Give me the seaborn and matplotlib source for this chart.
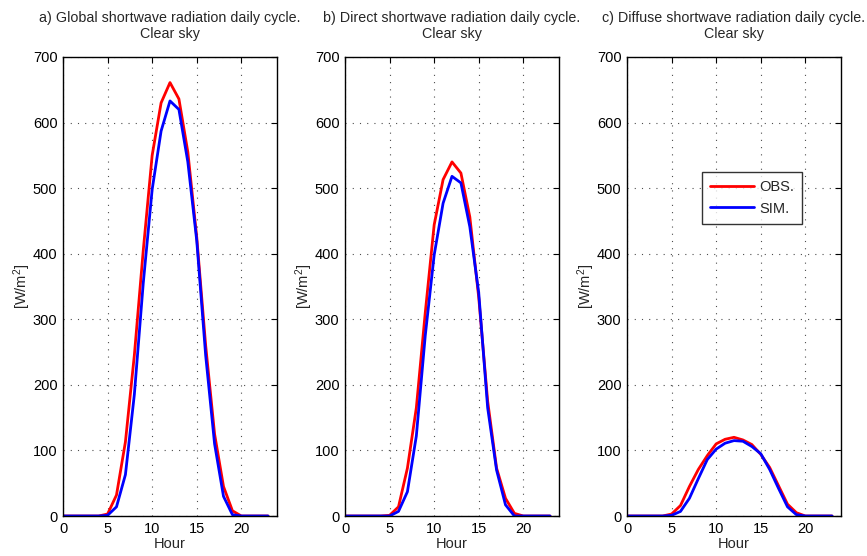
import matplotlib
matplotlib.use("Agg")
import matplotlib.pyplot as plt
import numpy as np
import pandas as pd
import seaborn as sns

# Hourly clear-sky shortwave radiation [W/m2], hours 0..23
hours = list(range(24))

global_obs = [0, 0, 0, 0, 0, 3, 32, 113, 245, 405, 550, 630, 661, 636, 555, 425,
              260, 125, 45, 8, 0, 0, 0, 0]
global_sim = [0, 0, 0, 0, 0, 1, 14, 63, 185, 355, 498, 587, 633, 620, 540, 420,
              245, 110, 30, 2, 0, 0, 0, 0]

direct_obs = [0, 0, 0, 0, 0, 1, 14, 73, 165, 310, 444, 513, 540, 523, 456, 333,
              175, 73, 27, 4, 0, 0, 0, 0]
direct_sim = [0, 0, 0, 0, 0, 0, 7, 37, 122, 275, 398, 477, 518, 508, 441, 340,
              165, 70, 17, 0, 0, 0, 0, 0]

diffuse_obs = [0, 0, 0, 0, 0, 3, 16, 45, 71, 92, 110, 117, 120, 116, 109, 94,
               74, 46, 18, 5, 0, 0, 0, 0]
diffuse_sim = [0, 0, 0, 0, 0, 1, 7, 27, 57, 86, 102, 111, 115, 114, 106, 95,
               71, 42, 14, 2, 0, 0, 0, 0]

series_names = ["OBS.", "SIM."]
titles = [
    "a) Global shortwave radiation daily cycle.\nClear sky",
    "b) Direct shortwave radiation daily cycle.\nClear sky",
    "c) Diffuse shortwave radiation daily cycle.\nClear sky",
]
panels = [
    (global_obs, global_sim),
    (direct_obs, direct_sim),
    (diffuse_obs, diffuse_sim),
]
x_ticks = [0, 5, 10, 15, 20]
y_ticks = [0, 100, 200, 300, 400, 500, 600, 700]

sns.set_theme(style="white")
plt.rcParams["font.family"] = ["Liberation Sans", "DejaVu Sans"]
plt.rcParams["mathtext.fontset"] = "custom"
plt.rcParams["mathtext.rm"] = "Liberation Sans"
plt.rcParams["mathtext.it"] = "Liberation Sans"

fig = plt.figure(figsize=(8.67, 5.56), dpi=100)
W, H = 867.0, 556.0
lefts = [63, 345, 627]
ax_w, ax_top, ax_bot = 214, 57, 516

palette = {"OBS.": "#ff0000", "SIM.": "#0000ff"}
fs = 10.5
title_fs = 10.3

for i, ((obs, sim), title) in enumerate(zip(panels, titles)):
    ax = fig.add_axes([lefts[i] / W, (H - ax_bot) / H, ax_w / W, (ax_bot - ax_top) / H])
    df = pd.DataFrame({
        "Hour": hours * 2,
        "value": obs + sim,
        "series": [series_names[0]] * len(obs) + [series_names[1]] * len(sim),
    })
    sns.lineplot(data=df, x="Hour", y="value", hue="series", palette=palette,
                 linewidth=2.0, ax=ax, legend=(i == 2))
    ax.set_xlim(0, 24)
    ax.set_ylim(0, 700)
    ax.set_xticks(x_ticks)
    ax.set_yticks(y_ticks)
    ax.grid(True, linestyle=(0, (1, 5.5)), color="0.3", linewidth=0.8)
    ax.tick_params(direction="in", top=True, right=True, length=4, width=0.8,
                   labelsize=fs, colors="black", pad=4)
    for s in ax.spines.values():
        s.set_visible(True)
        s.set_color("black")
        s.set_linewidth(1.0)
    ax.set_xlabel("Hour", fontsize=fs, labelpad=1)
    ax.set_ylabel(r"[W/m$^2$]", fontsize=fs, labelpad=0)
    ax.set_title(title, fontsize=title_fs, pad=14, linespacing=1.12)
    if i == 2:
        leg = ax.legend(loc="upper left", bbox_to_anchor=(0.35, 0.749),
                        borderaxespad=0, fontsize=fs, handlelength=3.0,
                        frameon=True, fancybox=False, title=None,
                        borderpad=0.55, labelspacing=0.5, handletextpad=0.4)
        leg.get_frame().set_edgecolor("black")
        leg.get_frame().set_linewidth(1.0)
        for line in leg.get_lines():
            line.set_linewidth(2.0)

fig.savefig("out.png", dpi=100)
